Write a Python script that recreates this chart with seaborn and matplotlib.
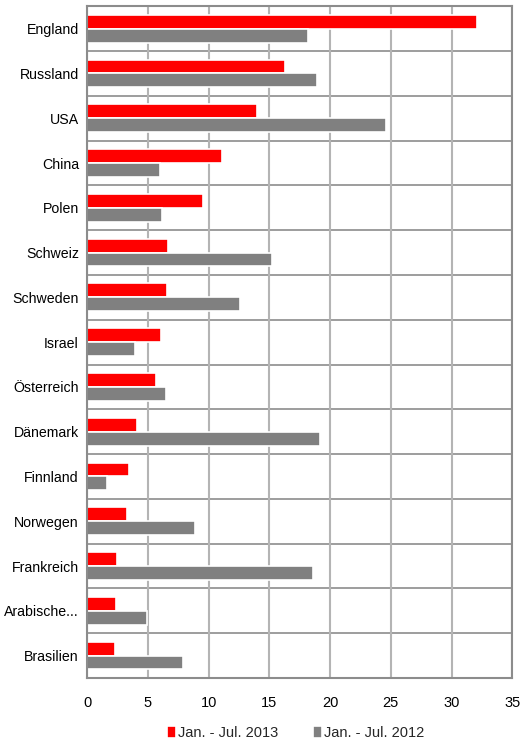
import numpy as np
import pandas as pd
import matplotlib
matplotlib.use('Agg')
import matplotlib.pyplot as plt
import seaborn as sns

# data
countries = ['England', 'Russland', 'USA', 'China', 'Polen', 'Schweiz', 'Schweden',
             'Israel', 'Österreich', 'Dänemark', 'Finnland', 'Norwegen', 'Frankreich',
             'Arabische...', 'Brasilien']
values_2013 = [32.1, 16.3, 13.95, 11.1, 9.5, 6.65, 6.55, 6.05, 5.65, 4.1, 3.4, 3.3, 2.45, 2.4, 2.3]
values_2012 = [18.2, 18.95, 24.6, 6.0, 6.15, 15.2, 12.6, 3.95, 6.5, 19.2, 1.6, 8.9, 18.6, 4.9, 7.85]
series = ['Jan. - Jul. 2013', 'Jan. - Jul. 2012']
colors = ['#ff0000', '#808080']

df = pd.DataFrame({
    'Land': countries * 2,
    'Wert': values_2013 + values_2012,
    'Zeitraum': [series[0]] * len(countries) + [series[1]] * len(countries),
})

sns.set_style('white')
plt.rcParams['font.family'] = ['Liberation Sans', 'DejaVu Sans']

fig = plt.figure(figsize=(5.28, 7.47), dpi=100)
ax = fig.add_axes([87.3 / 528, 1 - 678 / 747, 425 / 528, (678 - 6.3) / 747])

sns.barplot(data=df, y='Land', x='Wert', hue='Zeitraum', palette=colors,
            orient='h', width=0.62, edgecolor='white', linewidth=1.2,
            saturation=1, ax=ax, legend=True)

ax.set_xlim(0, 35)
ax.set_ylim(len(countries) - 0.5, -0.5)
ax.set_xticks(np.arange(0, 36, 5))
ax.xaxis.grid(True, color='#b4b4b4', linewidth=1.5)
ax.set_axisbelow(True)
for yb in np.arange(len(countries) + 1) - 0.5:
    ax.axhline(yb, color='#8c8c8c', linewidth=1.2, zorder=0.5)

for s in ax.spines.values():
    s.set_color('#8c8c8c')
    s.set_linewidth(1.5)

ax.set_xlabel('')
ax.set_ylabel('')
ax.tick_params(axis='both', length=0, labelsize=10.5, colors='black')
ax.tick_params(axis='y', pad=6, labelsize=10.2)
ax.tick_params(axis='x', pad=13)

ax.legend(loc='upper center', bbox_to_anchor=(0.49, -0.052), ncol=2, frameon=False,
          fontsize=10.5, handlelength=0.6, handleheight=0.9, handletextpad=0.15,
          columnspacing=2.4)

fig.savefig('out.png', dpi=100)
